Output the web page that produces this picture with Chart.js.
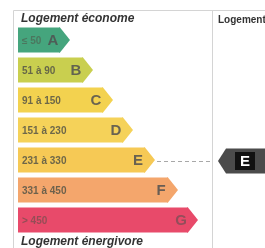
<!DOCTYPE html>
<html>
<head>
<meta charset="utf-8">
<script src="https://cdn.jsdelivr.net/npm/chart.js@4"></script>
<style>
	html, body { margin: 0; padding: 0; background: #fff; }
	#wrap { width: 265px; height: 248px; position: relative; }
</style>
</head>
<body>
<div id="wrap"><canvas id="dpe"></canvas></div>
<script>
const classes = ["A", "B", "C", "D", "E", "F", "G"];
const ranges = ["≤ 50", "51 à 90", "91 à 150", "151 à 230", "231 à 330", "331 à 450", "> 450"];
const barLengths = [42, 65, 85, 105, 127, 150, 170];
const classColors = ["#45a57d", "#c9cf4f", "#f3d24f", "#f5d259", "#f6c955", "#f4a66c", "#e84a6a"];
const currentClass = "E";
const topLabel = "Logement économe";
const bottomLabel = "Logement énergivore";
const sideLabel = "Logement";

const TIP = 10;

// cadre, pointes des flèches, textes et repère de la classe actuelle
const dpePlugin = {
	id: "dpe",
	beforeDraw(chart) {
		const ctx = chart.ctx;
		const area = chart.chartArea;
		ctx.save();
		ctx.fillStyle = "#fff";
		ctx.fillRect(0, 0, chart.width, chart.height);
		ctx.strokeStyle = "#d4d4d4";
		ctx.lineWidth = 1;
		ctx.beginPath();
		ctx.moveTo(13.5, chart.height);
		ctx.lineTo(13.5, 10.5);
		ctx.lineTo(chart.width, 10.5);
		ctx.moveTo(area.right - 0.5, 10.5);
		ctx.lineTo(area.right - 0.5, chart.height);
		ctx.stroke();

		ctx.fillStyle = "#333";
		ctx.font = "italic bold 12px 'Liberation Sans', Arial, sans-serif";
		ctx.textBaseline = "middle";
		ctx.fillText(topLabel, 21, 19);
		ctx.fillText(bottomLabel, 21, 242);
		ctx.font = "bold 10px 'Liberation Sans', Arial, sans-serif";
		ctx.fillText(sideLabel, area.right + 5, 20);
		ctx.restore();
	},
	afterDatasetsDraw(chart) {
		const ctx = chart.ctx;
		const area = chart.chartArea;
		const meta = chart.getDatasetMeta(0);
		ctx.save();
		meta.data.forEach((bar, i) => {
			const h = bar.height;
			ctx.fillStyle = classColors[i];
			ctx.beginPath();
			ctx.moveTo(bar.x - 1, bar.y - h / 2);
			ctx.lineTo(bar.x, bar.y - h / 2);
			ctx.lineTo(bar.x + TIP, bar.y);
			ctx.lineTo(bar.x, bar.y + h / 2);
			ctx.lineTo(bar.x - 1, bar.y + h / 2);
			ctx.closePath();
			ctx.fill();

			ctx.textBaseline = "middle";
			ctx.fillStyle = i === 0 || i === 6 ? "rgba(80,80,70,0.55)" : "rgba(85,85,70,0.85)";
			ctx.font = "bold 10px 'Liberation Sans', Arial, sans-serif";
			ctx.textAlign = "left";
			ctx.fillText(ranges[i], bar.base + 4, bar.y + 1);

			ctx.fillStyle = i === 6 ? "rgba(90,80,80,0.6)" : "rgba(80,80,80,0.85)";
			ctx.font = "bold 15px 'Liberation Sans', Arial, sans-serif";
			ctx.textAlign = "center";
			ctx.fillText(classes[i], bar.x - 7, bar.y + 1);
		});

		// repère de la classe actuelle
		const idx = classes.indexOf(currentClass);
		const cur = meta.data[idx];
		const y = cur.y + 1;
		ctx.strokeStyle = "#a8a8a8";
		ctx.setLineDash([4, 3]);
		ctx.beginPath();
		ctx.moveTo(cur.x + TIP + 2, y + 0.5);
		ctx.lineTo(area.right - 1, y + 0.5);
		ctx.stroke();
		ctx.setLineDash([]);

		const mx = area.right + 5;
		const mh = 25;
		ctx.fillStyle = "#4b4b4b";
		ctx.beginPath();
		ctx.moveTo(mx, y);
		ctx.lineTo(mx + 8, y - mh / 2);
		ctx.lineTo(chart.width, y - mh / 2);
		ctx.lineTo(chart.width, y + mh / 2);
		ctx.lineTo(mx + 8, y + mh / 2);
		ctx.closePath();
		ctx.fill();
		ctx.fillStyle = "#111";
		ctx.fillRect(mx + 17, y - 9, 20, 18);
		ctx.fillStyle = "#fff";
		ctx.font = "bold 15px 'Liberation Sans', Arial, sans-serif";
		ctx.textAlign = "center";
		ctx.fillText(currentClass, mx + 27, y + 1);
		ctx.restore();
	},
};

new Chart(document.getElementById("dpe"), {
	type: "bar",
	data: {
		labels: classes,
		datasets: [
			{
				data: barLengths,
				backgroundColor: classColors,
				borderWidth: 0,
				barPercentage: 1,
				categoryPercentage: 0.83,
			},
		],
	},
	options: {
		indexAxis: "y",
		responsive: true,
		maintainAspectRatio: false,
		animation: false,
		layout: { padding: { left: 18, right: 52, top: 25, bottom: 13 } },
		plugins: { legend: { display: false }, tooltip: { enabled: false } },
		scales: {
			x: { display: false, min: 0, max: 195 },
			y: { display: false },
		},
	},
	plugins: [dpePlugin],
});
</script>
</body>
</html>
